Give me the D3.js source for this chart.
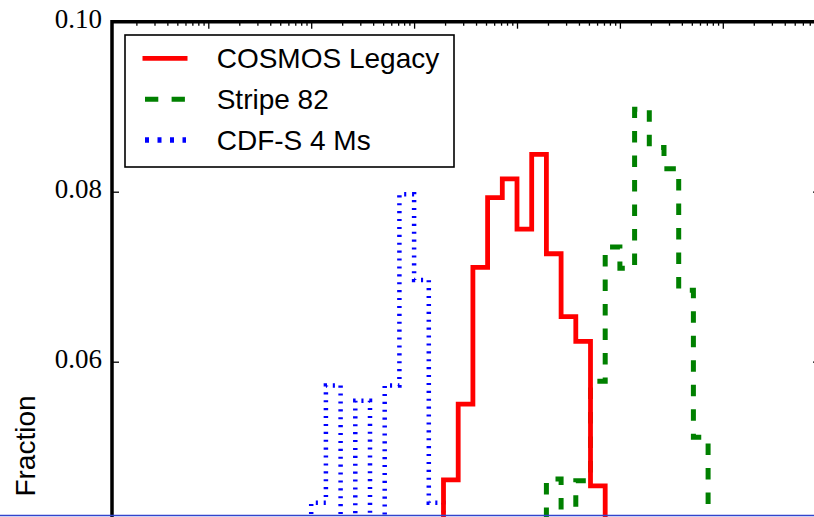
<!DOCTYPE html>
<html>
<head>
<meta charset="utf-8">
<script src="https://cdn.jsdelivr.net/npm/d3@7"></script>
<style>
  html, body { margin: 0; padding: 0; background: #ffffff; }
  svg { display: block; }
</style>
</head>
<body>
<svg id="chart" width="814" height="517"></svg>
<script>
// Flux histograms, bins 1/7 dex wide in log10(flux); a bin with index k spans [k/7, (k+1)/7]
const binsPerDex = 7;

const cosmosFirstBin = -111;
const cosmosValues = [0.030, 0.0461, 0.0550, 0.0711, 0.0793, 0.0815, 0.0756, 0.0844, 0.0727, 0.0653, 0.0624, 0.0454, 0.030];

const stripeFirstBin = -104;
const stripeValues = [0.030, 0.0462, 0.040, 0.0460, 0.0577, 0.0735, 0.0710, 0.0897, 0.0852, 0.0827, 0.0684, 0.0511, 0.030];

const cdfsFirstBin = -121;
const cdfsValues = [0.030, 0.035, 0.0434, 0.0572, 0.038, 0.0554, 0.038, 0.0572, 0.0797, 0.0696, 0.0434, 0.030];

const seriesNames = ["COSMOS Legacy", "Stripe 82", "CDF-S 4 Ms"];
const yTickValues = [0.06, 0.08, 0.10];
const yTickLabels = ["0.06", "0.08", "0.10"];
const yLabel = "Fraction";

const svg = d3.select("#chart");

// Plot frame (the lower and right parts fall outside the window)
const frame = { left: 112, top: 21.7, right: 820, bottom: 600 };

const x = d3.scaleLog().domain([1e-19, 1e-12]).range([105.4, 825.7]);
const y = d3.scaleLinear().domain([0, 0.10]).range([871.7, 21.7]);

svg.append("defs").append("clipPath").attr("id", "plotArea")
  .append("rect").attr("x", frame.left).attr("y", frame.top)
  .attr("width", frame.right - frame.left).attr("height", frame.bottom - frame.top);

// Step outline of a histogram
function stepPoints(firstBin, values) {
  const pts = [];
  const edge = k => Math.pow(10, k / binsPerDex);
  pts.push([edge(firstBin), 0]);
  values.forEach((v, i) => {
    pts.push([edge(firstBin + i), v]);
    pts.push([edge(firstBin + i + 1), v]);
  });
  pts.push([edge(firstBin + values.length), 0]);
  return pts;
}

const line = d3.line().x(d => x(d[0])).y(d => y(d[1]));

const plot = svg.append("g").attr("clip-path", "url(#plotArea)");

const styles = {
  cosmos: { color: "#ff0000", width: 4.8, dash: null },
  stripe: { color: "#008000", width: 5, dash: "11.5,13" },
  cdfs:   { color: "#0000ff", width: 4.5, dash: "2.1,5.8" }
};

function drawHist(firstBin, values, st) {
  plot.append("path")
    .attr("d", line(stepPoints(firstBin, values)))
    .attr("fill", "none")
    .attr("stroke", st.color)
    .attr("stroke-width", st.width)
    .attr("stroke-linejoin", "miter")
    .attr("stroke-dasharray", st.dash);
}

drawHist(stripeFirstBin, stripeValues, styles.stripe);
drawHist(cdfsFirstBin, cdfsValues, styles.cdfs);
drawHist(cosmosFirstBin, cosmosValues, styles.cosmos);

// Top axis: log ticks pointing inward
const logTicks = x.ticks().filter(t => x(t) > frame.left + 2 && x(t) < frame.right - 2);
const majorTicks = logTicks.filter(t => Math.abs(Math.log10(t) - Math.round(Math.log10(t))) < 1e-6);
const minorTicks = logTicks.filter(t => !majorTicks.includes(t));

function styleAxis(g) {
  g.select(".domain").remove();
  g.selectAll(".tick line").attr("stroke", "#000").attr("stroke-width", 1.3);
}

svg.append("g").attr("transform", `translate(0,${frame.top})`)
  .call(d3.axisTop(x).tickValues(majorTicks).tickSize(-7).tickFormat(""))
  .call(styleAxis);
svg.append("g").attr("transform", `translate(0,${frame.top})`)
  .call(d3.axisTop(x).tickValues(minorTicks).tickSize(-4).tickFormat(""))
  .call(styleAxis);

// Left axis with serif tick labels
const yAxisLeft = svg.append("g").attr("transform", `translate(${frame.left},0)`)
  .call(d3.axisLeft(y).tickValues(yTickValues).tickSize(-7).tickPadding(10)
    .tickFormat((d, i) => yTickLabels[i]))
  .call(styleAxis);
yAxisLeft.selectAll(".tick text")
  .attr("fill", "#000")
  .attr("dy", "0.21em")
  .style("font-family", "'Liberation Serif', 'DejaVu Serif', serif")
  .style("font-size", "27px");

svg.append("g").attr("transform", `translate(${frame.right},0)`)
  .call(d3.axisRight(y).tickValues(yTickValues).tickSize(-7).tickFormat(""))
  .call(styleAxis);

// Spines
svg.append("path")
  .attr("d", `M${frame.left},${frame.bottom} V${frame.top} H${frame.right} V${frame.bottom}`)
  .attr("fill", "none")
  .attr("stroke", "#000")
  .attr("stroke-width", 3.5)
  .attr("stroke-linejoin", "miter");

// Y label
svg.append("text")
  .attr("transform", "translate(35,446) rotate(-90)")
  .attr("text-anchor", "middle")
  .style("font-family", "'Liberation Sans', Arial, sans-serif")
  .style("font-size", "28px")
  .attr("fill", "#000")
  .text(yLabel);

// Legend
const legend = svg.append("g");
legend.append("rect")
  .attr("x", 125).attr("y", 35).attr("width", 329).attr("height", 132)
  .attr("fill", "#fff").attr("stroke", "#000").attr("stroke-width", 1.6);

const legendRows = [
  { name: seriesNames[0], st: styles.cosmos, dash: null, y: 58.3 },
  { name: seriesNames[1], st: styles.stripe, dash: "13.3,13.3", y: 99.3 },
  { name: seriesNames[2], st: styles.cdfs, dash: "4,8.5", y: 140 }
];
legendRows.forEach((r, i) => {
  legend.append("line")
    .attr("x1", i === 0 ? 142.5 : 145).attr("x2", i === 0 ? 187.5 : 186)
    .attr("y1", r.y).attr("y2", r.y)
    .attr("stroke", r.st.color)
    .attr("stroke-width", i === 2 ? 5.5 : r.st.width)
    .attr("stroke-dasharray", r.dash);
  legend.append("text")
    .attr("x", 216.7).attr("y", r.y + 10)
    .style("font-family", "'Liberation Sans', Arial, sans-serif")
    .style("font-size", "28px")
    .attr("fill", "#000")
    .text(r.name);
});

// Thin rule along the lower edge
svg.append("line")
  .attr("x1", 0).attr("x2", 814).attr("y1", 515.5).attr("y2", 515.5)
  .attr("stroke", "#3344cc").attr("stroke-width", 1.5);
</script>
</body>
</html>
